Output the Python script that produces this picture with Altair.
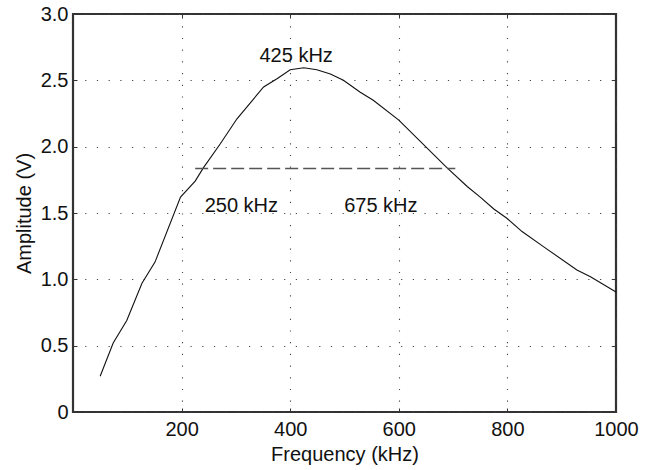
import altair as alt
import pandas as pd

# Curve: frequency (kHz) vs amplitude (V)
freq = [50, 74, 99, 127, 151, 198, 225, 240, 271, 302, 351, 375, 400, 425, 449,
        474, 498, 529, 553, 600, 689, 726, 750, 775, 799, 827, 867, 928, 953, 1000]
amp = [0.27, 0.52, 0.69, 0.97, 1.13, 1.62, 1.74, 1.84, 2.02, 2.21, 2.45, 2.51, 2.58, 2.595, 2.58,
       2.547, 2.50, 2.41, 2.35, 2.20, 1.84, 1.70, 1.62, 1.53, 1.46, 1.36, 1.245, 1.07, 1.02, 0.905]

# Half-power dashed line
half_x = [225, 704]
half_y = [1.836, 1.836]

# Annotations
ann_text = ["425 kHz", "250 kHz", "675 kHz"]
ann_x = [411, 310, 567]
ann_y = [2.68, 1.556, 1.556]

x_ticks = [200, 400, 600, 800, 1000]
y_ticks = [0, 0.5, 1.0, 1.5, 2.0, 2.5, 3.0]

curve = pd.DataFrame({"f": freq, "a": amp})
half = pd.DataFrame({"f": half_x, "a": half_y})
ann = pd.DataFrame({"f": ann_x, "a": ann_y, "t": ann_text})

FONT = "Liberation Sans"
FS = 20

xs = alt.Scale(domain=[0, 1000], nice=False, zero=False)
ys = alt.Scale(domain=[0, 3], nice=False, zero=False)

grid_style = dict(grid=True, gridDash=[1.2, 10.5], gridColor="#444", gridWidth=1.1)
lab_style = dict(labelFont=FONT, labelFontSize=FS, labelColor="#111",
                 titleFont=FONT, titleFontSize=FS, titleColor="#111",
                 titleFontWeight="normal", labelFlush=False)

line = alt.Chart(curve).mark_line(color="#111", strokeWidth=1.1).encode(
    x=alt.X("f:Q", scale=xs, axis=alt.Axis(
        values=x_ticks, title="Frequency (kHz)", orient="bottom", offset=-4,
        tickSize=4, tickColor="#333", domain=False, labelPadding=7,
        titlePadding=5, format="d", **grid_style, **lab_style)),
    y=alt.Y("a:Q", scale=ys, axis=alt.Axis(
        values=y_ticks, title="Amplitude (V)", orient="left", offset=-4,
        tickSize=4, tickColor="#333", domain=False, labelPadding=5,
        titlePadding=6,
        labelExpr="datum.value == 0 ? '0' : format(datum.value, '.1f')",
        **grid_style, **lab_style)),
)

dashed = alt.Chart(half).mark_line(color="#555", strokeWidth=1.5, strokeDash=[13, 5]).encode(
    x=alt.X("f:Q", scale=xs, axis=alt.Axis(
        values=x_ticks, title=None, orient="top", offset=-4, tickSize=4,
        tickColor="#333", domain=False, labels=False, grid=False)),
    y=alt.Y("a:Q", scale=ys, axis=alt.Axis(
        values=y_ticks, title=None, orient="right", offset=-4, tickSize=4,
        tickColor="#333", domain=False, labels=False, grid=False)),
)

text = alt.Chart(ann).mark_text(font=FONT, fontSize=FS, color="#111",
                                align="center", baseline="middle").encode(
    x=alt.X("f:Q", scale=xs, axis=None),
    y=alt.Y("a:Q", scale=ys, axis=None),
    text="t:N",
)

chart = alt.layer(line, dashed, text).resolve_axis(
    x="independent", y="independent"
).properties(
    width=543, height=398,
    padding={"left": 73, "top": 14, "right": 34, "bottom": 58},
    autosize="none",
    background="white",
).configure_view(
    stroke="#333", strokeWidth=2.2
)

chart.save("out.html", embed_options={"renderer": "svg", "actions": False})
